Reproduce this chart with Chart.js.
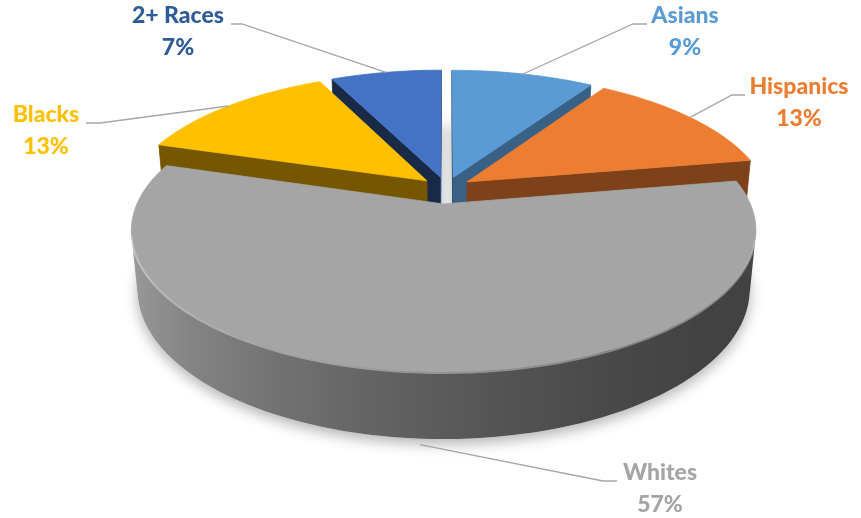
<!DOCTYPE html>
<html>
<head>
<meta charset="utf-8">
<script src="https://cdn.jsdelivr.net/npm/chart.js@4.4.0/dist/chart.umd.min.js"></script>
<style>
  html, body { margin: 0; padding: 0; background: #fff; }
  #wrap { width: 861px; height: 518px; }
</style>
</head>
<body>
<div id="wrap"><canvas id="pie" width="861" height="518"></canvas></div>
<script>
/* ====== 3D POPULATION PIE ====== */

const groups = ['Asians', 'Hispanics', 'Whites', 'Blacks', '2+ Races']
const shares = [9, 13, 57, 13, 7]
const faceColors = ['#5B9BD5', '#ED7D31', '#A5A5A5', '#FFC000', '#4472C4']
const labelColors = ['#5B9BD5', '#ED7D31', '#A5A5A5', '#FFC000', '#2F5C94']
const explode = [68, 68, 96, 68, 68]

// label centre (x, y), elbow of the leader line (ex, ey) and its short tail end (tx)
const labelSpots = [
  { x: 685, y: 16, ex: 633, ey: 24, tx: 647 },
  { x: 799, y: 87, ex: 732, ey: 95, tx: 745 },
  { x: 660, y: 473, ex: 603, ey: 481, tx: 617 },
  { x: 46, y: 115, ex: 100, ey: 123, tx: 86 },
  { x: 178, y: 16, ex: 242, ey: 24, tx: 231 }
]

// camera used to tip the flat pie back into perspective
const view = { cx: 446, cy: 188, scale: 300, tilt: 0.45, dist: 4.9, depth: 0.215 }
const STEP = Math.PI / 90

function project(X, Z, H) {
  const s = Math.sin(view.tilt), c = Math.cos(view.tilt)
  const w = 1 - (Z * c + H * s) / view.dist
  return [view.cx + view.scale * X / w, view.cy + view.scale * (Z * s - H * c) / w]
}

function shade(hex, b) {
  const n = parseInt(hex.slice(1), 16)
  const f = v => Math.max(0, Math.min(255, Math.round(v * b)))
  return `rgb(${f((n >> 16) & 255)},${f((n >> 8) & 255)},${f(n & 255)})`
}

function tracePoly(ctx, pts) {
  ctx.beginPath()
  pts.forEach((p, i) => i ? ctx.lineTo(p[0], p[1]) : ctx.moveTo(p[0], p[1]))
  ctx.closePath()
}

function fillPoly(ctx, pts, color, seam) {
  tracePoly(ctx, pts)
  ctx.fillStyle = color
  ctx.fill()
  if (seam) { ctx.strokeStyle = color; ctx.lineWidth = 0.8; ctx.stroke() }
}

// geometry of one arc element, normalised to its own outer radius
function sliceOf(arc) {
  const p = arc.getProps(['startAngle', 'endAngle', 'outerRadius'], true)
  const mid = (p.startAngle + p.endAngle) / 2
  const off = (arc.options.offset || 0) / 4 / p.outerRadius
  const g = { a0: p.startAngle, a1: p.endAngle, mid, ox: Math.cos(mid) * off, oz: Math.sin(mid) * off }
  g.rim = (a, H) => project(g.ox + Math.cos(a), g.oz + Math.sin(a), H)
  g.apex = H => project(g.ox, g.oz, H)
  g.angles = () => {
    const n = Math.max(2, Math.ceil((g.a1 - g.a0) / STEP))
    return Array.from({ length: n + 1 }, (_, i) => g.a0 + (g.a1 - g.a0) * i / n)
  }
  return g
}

function facesCamera(nx, nz, X, Z) {
  const camZ = view.dist * Math.cos(view.tilt)
  return nx * (0 - X) + nz * (camZ - Z) > 0
}

const rimLight = (nx, nz) => 0.73 - 0.277 * nx - 0.18 * nz

// one continuous run of visible rim, shaded with a gradient along x
function drawRimRun(ctx, g, angs, i0, i1, base) {
  const T = -view.depth
  const top = [], bottom = []
  for (let i = i0; i <= i1 + 1; i++) { top.push(g.rim(angs[i], 0)); bottom.push(g.rim(angs[i], T)) }
  const xs = top[0][0], xe = top[top.length - 1][0]
  let fill
  if (Math.abs(xe - xs) < 1) {
    const am = (angs[i0] + angs[i1 + 1]) / 2
    fill = shade(base, rimLight(Math.cos(am), Math.sin(am)))
  } else {
    fill = ctx.createLinearGradient(xs, 0, xe, 0)
    let last = 0
    for (let i = i0; i <= i1; i++) {
      const am = (angs[i] + angs[i + 1]) / 2
      const xm = (top[i - i0][0] + top[i - i0 + 1][0]) / 2
      const t = Math.min(1, Math.max(last, (xm - xs) / (xe - xs)))
      fill.addColorStop(t, shade(base, rimLight(Math.cos(am), Math.sin(am))))
      last = t
    }
  }
  tracePoly(ctx, [...top, ...bottom.reverse()])
  ctx.fillStyle = fill
  ctx.fill()

  // soft bevel light along the upper edge
  ctx.save()
  ctx.strokeStyle = 'rgba(255,255,255,0.35)'
  ctx.lineWidth = 2
  ctx.beginPath()
  top.forEach((p, k) => k ? ctx.lineTo(p[0], p[1] + 1) : ctx.moveTo(p[0], p[1] + 1))
  ctx.stroke()
  ctx.restore()
}

function drawSlice(ctx, g, base) {
  const T = -view.depth
  const angs = g.angles()

  // outer rim, split into runs that face the camera
  const lit = []
  for (let i = 0; i < angs.length - 1; i++) {
    const am = (angs[i] + angs[i + 1]) / 2
    const nx = Math.cos(am), nz = Math.sin(am)
    lit.push(facesCamera(nx, nz, g.ox + nx, g.oz + nz))
  }

  // radial walls at both cut edges
  const edges = [
    { a: g.a0, nx: Math.sin(g.a0), nz: -Math.cos(g.a0) },
    { a: g.a1, nx: -Math.sin(g.a1), nz: Math.cos(g.a1) }
  ]
  edges.forEach(e => {
    const X = g.ox + Math.cos(e.a) / 2, Z = g.oz + Math.sin(e.a) / 2
    if (!facesCamera(e.nx, e.nz, X, Z)) return
    fillPoly(ctx, [g.apex(0), g.rim(e.a, 0), g.rim(e.a, T), g.apex(T)], shade(base, 0.5 + 0.15 * e.nx), true)
  })

  // top face
  fillPoly(ctx, [g.apex(0), ...angs.map(a => g.rim(a, 0))], base, true)

  let start = -1
  for (let i = 0; i <= lit.length; i++) {
    if (i < lit.length && lit[i]) { if (start < 0) start = i; continue }
    if (start >= 0) { drawRimRun(ctx, g, angs, start, i - 1, base); start = -1 }
  }
}

const tiltPie = {
  id: 'tiltPie',
  beforeDatasetsDraw(chart) {
    const ctx = chart.ctx
    const meta = chart.getDatasetMeta(0)
    const slices = meta.data.map((arc, i) => ({ g: sliceOf(arc), i }))

    // faint drop shadow under the whole body
    ctx.save()
    ctx.shadowColor = 'rgba(0,0,0,0.3)'
    ctx.shadowBlur = 14
    ctx.shadowOffsetY = 5
    slices.forEach(s => {
      fillPoly(ctx, [s.g.apex(-view.depth), ...s.g.angles().map(a => s.g.rim(a, -view.depth))], '#fff', false)
    })
    ctx.restore()

    // far slices first so the nearer ones cover them
    slices.sort((a, b) => Math.sin(a.g.mid) - Math.sin(b.g.mid))
    slices.forEach(s => drawSlice(ctx, s.g, faceColors[s.i]))
    return false
  },
  afterDraw(chart) {
    const ctx = chart.ctx
    const meta = chart.getDatasetMeta(0)
    ctx.save()
    meta.data.forEach((arc, i) => {
      const g = sliceOf(arc)
      const spot = labelSpots[i]
      const front = Math.sin(g.mid) > 0
      const anchor = g.rim(g.mid, front ? -view.depth : 0)
      if (front) anchor[1] += 6

      ctx.strokeStyle = '#A6A6A6'
      ctx.lineWidth = 1.3
      ctx.beginPath()
      ctx.moveTo(spot.tx, spot.ey)
      ctx.lineTo(spot.ex, spot.ey)
      ctx.lineTo(anchor[0], anchor[1])
      ctx.stroke()

      ctx.fillStyle = labelColors[i]
      ctx.font = '900 23px Lato'
      ctx.textAlign = 'center'
      ctx.textBaseline = 'middle'
      ctx.fillText(groups[i], spot.x, spot.y)
      ctx.fillText(shares[i] + '%', spot.x, spot.y + 32)
    })
    ctx.restore()
  }
}

new Chart(document.getElementById('pie'), {
  type: 'pie',
  data: {
    labels: groups,
    datasets: [{ data: shares, backgroundColor: faceColors, borderWidth: 0, offset: explode }]
  },
  options: {
    responsive: false,
    animation: false,
    radius: 200,
    plugins: { legend: { display: false }, tooltip: { enabled: false } }
  },
  plugins: [tiltPie]
})
</script>
</body>
</html>
